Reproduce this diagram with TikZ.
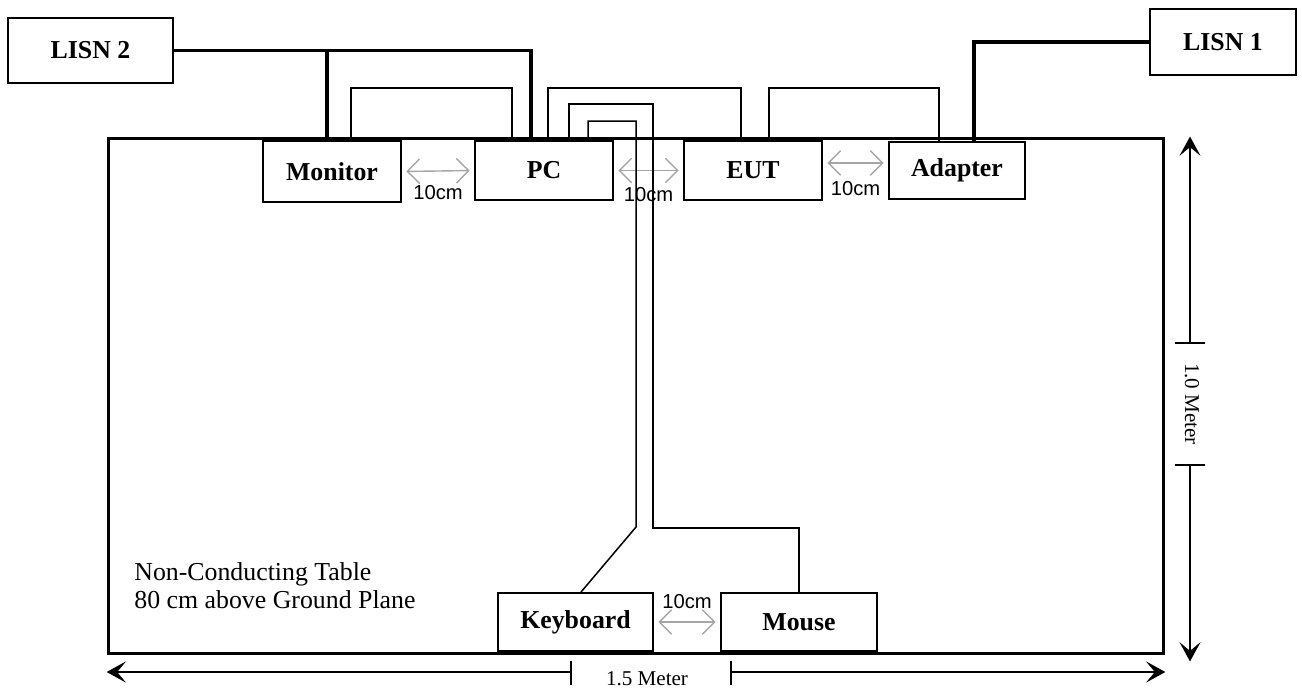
\documentclass[tikz,border=0pt]{standalone}
\usepackage{fontspec}
\setmainfont{Liberation Serif}
\setsansfont{Liberation Sans}
\usetikzlibrary{arrows.meta}

\begin{document}
\begin{tikzpicture}[x=0.02cm, y=-0.02cm, >={Stealth[length=11pt, width=12pt, inset=5pt]},
      dev/.style={draw, line width=1.1pt, inner sep=0pt, minimum width=2.76cm, minimum height=1.18cm,
                  font=\bfseries\fontsize{14.7}{17}\selectfont},
      pwr/.style={line width=1.9pt},
      wire/.style={line width=0.85pt},
      gap/.style={gray!70, line width=0.8pt, shorten <=2.5pt, shorten >=2.5pt,
                  {Straight Barb[length=7pt, width=14pt]}-{Straight Barb[length=7pt, width=14pt]}},
      dim/.style={line width=0.8pt},
      lbl/.style={font=\sffamily\fontsize{11.5}{13}\selectfont, text=black, inner sep=0pt},
      dimlbl/.style={font=\fontsize{12}{14}\selectfont, inner sep=0pt}]

    \useasboundingbox (0,0) rectangle (1302,690);

    % the table
    \node[draw, line width=1.7pt, inner sep=0pt, minimum width=21.12cm, minimum height=10.32cm] (table) at (636,396) {};
    \node[anchor=north west, align=left, inner sep=0pt, font=\fontsize{14.7}{15.9}\selectfont] (note) at (134,562)
        {Non-Conducting Table\\80 cm above Ground Plane};

    % equipment
    \node[dev, minimum width=3.3cm, minimum height=1.3cm]   (lisn2) at (90.5,50.5) {LISN 2};
    \node[dev, minimum width=2.92cm, minimum height=1.32cm] (lisn1) at (1223,42)   {LISN 1};
    \node[dev, minimum height=1.22cm]                       (mon)   at (332,171.5) {Monitor};
    \node[dev]                                              (pc)    at (544,170.5) {PC};
    \node[dev]                                              (eut)   at (753,170.5) {EUT};
    \node[dev, minimum width=2.72cm, minimum height=1.14cm] (adapt) at (957,170.5) {Adapter};
    \node[dev, minimum width=3.1cm, minimum height=1.16cm]  (kbd)   at (575.5,622) {Keyboard};
    \node[dev, minimum width=3.12cm, minimum height=1.16cm] (mouse) at (799,622)   {Mouse};

    % 10 cm spacing
    \draw[gap] (mon.east) -- (pc.west) node[lbl, midway, yshift=-0.44cm] {10cm};
    \draw[gap] (pc.east) -- (eut.west) node[lbl, midway, yshift=-0.48cm] {10cm};
    \draw[gap] ([yshift=0.15cm]eut.east) -- ([yshift=0.15cm]adapt.west) node[lbl, midway, yshift=-0.52cm] {10cm};
    \draw[gap] (kbd.east) -- (mouse.west) node[lbl, midway, yshift=0.4cm] {10cm};

    % mains cables
    \draw[pwr] (lisn2.east) -| (pc.north -| 531,0);
    \draw[pwr] (lisn2.east -| 327,0) -- (mon.north -| 327,0);
    \draw[pwr] (lisn1.west) -| (adapt.north -| 974,0);

    % signal cables
    \draw[wire] (mon.north -| 351,0) -- ++(0,-52) -| (pc.north -| 512,0);
    \draw[wire] (pc.north -| 548,0) -- ++(0,-52) -| (eut.north -| 741,0);
    \draw[wire] (eut.north -| 769,0) -- ++(0,-52) -| (adapt.north -| 939,0);
    \draw[line width=1.1pt] (pc.north -| 569,0) -- ++(0,-36) -| ++(84,424) -| (mouse.north);
    \draw[wire] (pc.north -| 588,0) -- ++(0,-19) -| ++(48,406) -- (kbd.north -| 581,0);

    % 1.5 m
    \coordinate (lenL) at (571,672);
    \coordinate (lenR) at (731,672);
    \draw[dim, <-] (table.south west |- lenL) -- (lenL);
    \draw[dim, ->] (lenR) -- (table.south east |- lenR);
    \draw[dim] ([yshift=0.23cm]lenL) -- ([yshift=-0.25cm]lenL);
    \draw[dim] ([yshift=0.23cm]lenR) -- ([yshift=-0.25cm]lenR);
    \node[dimlbl] (len) at (647,679) {1.5 Meter};

    % 1.0 m
    \coordinate (widT) at (1190,343);
    \coordinate (widB) at (1190,465);
    \draw[dim, <-] (table.north east -| widT) -- (widT);
    \draw[dim, ->] (widB) -- ([yshift=-0.12cm]table.south east -| widB);
    \draw[dim] ([xshift=-0.3cm]widT) -- ([xshift=0.3cm]widT);
    \draw[dim] ([xshift=-0.3cm]widB) -- ([xshift=0.3cm]widB);
    \node[dimlbl, rotate=-90] (wid) at (1192,404) {1.0 Meter};

\end{tikzpicture}
\end{document}
